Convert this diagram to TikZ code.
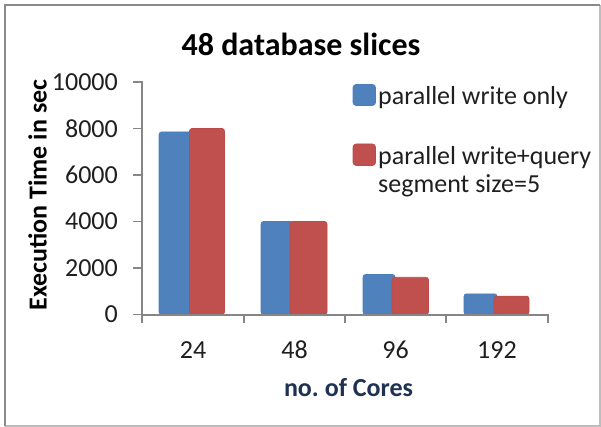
\documentclass[tikz,border=0pt]{standalone}
\usepackage{fontspec}
\setmainfont{Carlito}
\frenchspacing
\definecolor{serA}{HTML}{4F81BD}
\definecolor{serAedge}{HTML}{4A7DBA}
\definecolor{serB}{HTML}{C0504D}
\definecolor{serBedge}{HTML}{BA4B48}
\definecolor{axisgray}{HTML}{868686}
\definecolor{framedark}{HTML}{8A8A8A}
\definecolor{framelight}{HTML}{BDBDBD}
\definecolor{axtitle}{RGB}{31,50,84}
\begin{document}
\begin{tikzpicture}[x=1pt,y=-1pt,
  lbl/.style={font=\fontsize{26}{28}\selectfont, inner sep=0pt, text=black!88},
  boldlbl/.style={font=\fontsize{26}{28}\selectfont\bfseries, inner sep=0pt},
  barA/.style={fill=serA, draw=serAedge, line width=0.6pt, rounded corners=2.5pt},
  barB/.style={fill=serB, draw=serBedge, line width=0.6pt, rounded corners=2.5pt},
  axisline/.style={draw=axisgray, line width=1.6pt},
  keybox/.style={rounded corners=3pt, line width=0.6pt}]
\useasboundingbox (0,0) rectangle (601,427);
\fill[white] (0,0) rectangle (601,427);

% chart frame
\draw[framelight, line width=1.5pt] (600,5) -- (600,426.2) -- (5,426.2);
\draw[framedark, line width=2pt] (5,426) -- (5,5) -- (600,5);

% title
\node[font=\fontsize{32}{34}\selectfont\bfseries, inner sep=0pt, anchor=base] (title) at (301,56) {48 database slices};

% bars: value v sits at y = 314.5 - 0.02325 v
\foreach \l/\r/\v [count=\i] in {159/192/7850, 261/293/4000, 363/395/1720, 464/497/890}
  \path[barA] (\l,314.5) rectangle (\r,{314.5-0.02325*\v});
\foreach \l/\r/\v [count=\i] in {189.5/224.5/8000, 290/327/4000, 392/428.5/1600, 494/529/790}
  \path[barB] (\l,314.5) rectangle (\r,{314.5-0.02325*\v});

% axes
\draw[axisline] (142,81.5) -- (142,315) -- (548.5,315);
\foreach \v in {0,2000,4000,6000,8000,10000} {
  \draw[axisline] (133,{314.5-0.02325*\v}) -- (142,{314.5-0.02325*\v});
  \node[lbl, anchor=east] (y\v) at (118,{314.5-0.02325*\v}) {\v};
}
\foreach \x in {142,244,345,446,548}
  \draw[axisline] (\x,315) -- (\x,323);
\foreach \x/\t in {193/24, 294.5/48, 395.5/96, 497/192}
  \node[lbl, anchor=base] (c\t) at (\x,358) {\t};

% axis titles
\node[boldlbl, text=axtitle, anchor=base] (xtitle) at (348.5,396.5) {no. of Cores};
\node[boldlbl, rotate=90, anchor=base] (ytitle) at (46.5,195) {Execution Time in sec};

% legend
\path[keybox, fill=serA, draw=serAedge] (353,84.5) rectangle (375.5,105.5);
\node[lbl, anchor=base west] (keyA) at (378,105) {parallel write only};
\path[keybox, fill=serB, draw=serBedge] (353,144) rectangle (375.5,165.5);
\node[lbl, anchor=base west] (keyB) at (378,165) {parallel write+query};
\node[lbl, anchor=base west] (keyB2) at (378,193) {segment size=5};
\end{tikzpicture}
\end{document}
